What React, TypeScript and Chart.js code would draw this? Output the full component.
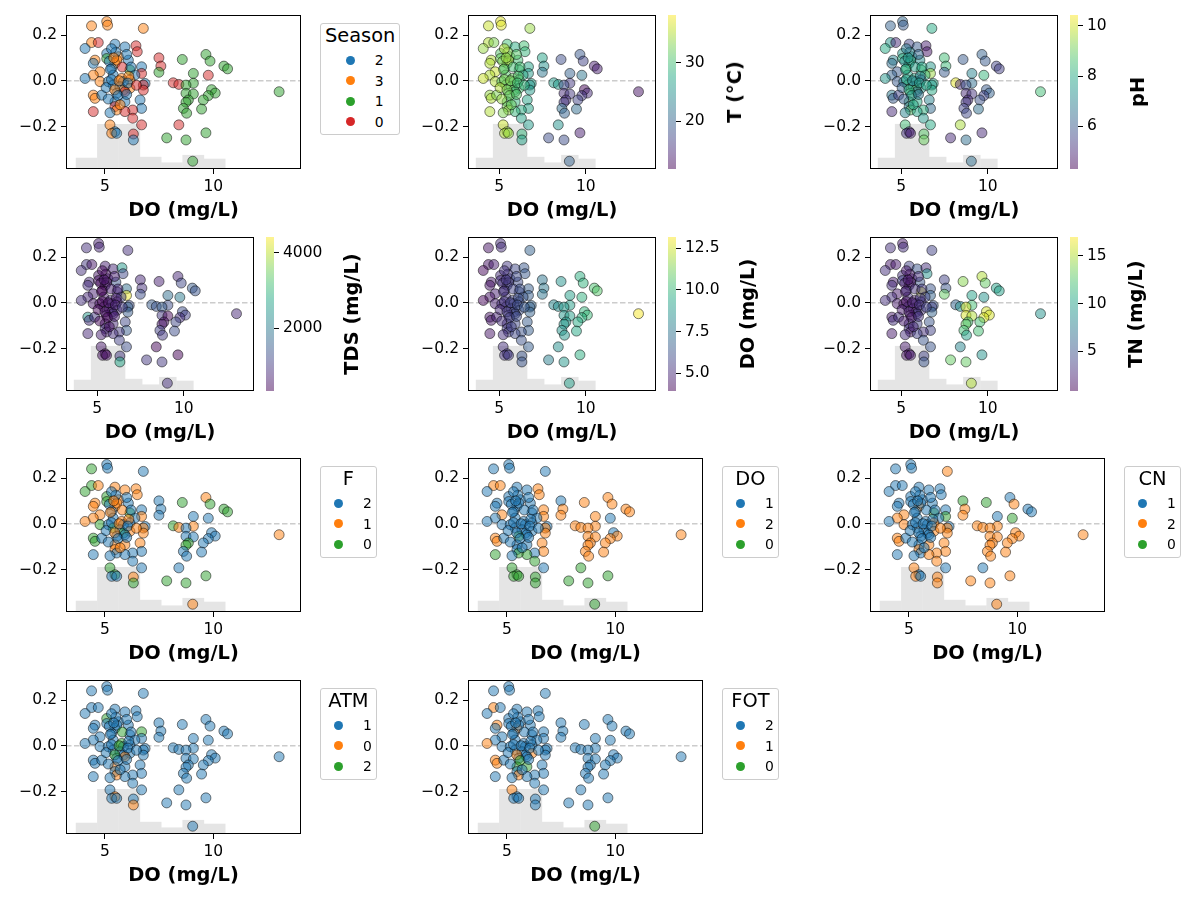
import React, { useEffect, useRef } from 'react';
import { Chart, registerables } from 'chart.js';

Chart.register(...registerables);

const FONT = "'DejaVu Sans', 'Liberation Sans', sans-serif";
Chart.defaults.font.family = FONT;

// ---------------- data ----------------
const doValues = [
  4.38, 5.08, 5.12, 6.77, 4.38, 4.69, 4.08, 5.46, 5.92, 6.43,
  6.49, 5.08, 4.54, 5.08, 5.62, 6.08, 5.46, 4.46, 5.31, 6.69,
  6.15, 6.69, 4.77, 4.46, 5.38, 6.38, 5.77, 4.08, 6.15, 4.77,
  5.15, 5.85, 6.85, 6.77, 5.38, 5.69, 6.15, 6.77, 5.85, 5.92,
  4.46, 4.54, 4.85, 5.54, 5.46, 5.92, 6.62, 5.46, 6.69, 5.54,
  6.28, 4.46, 5.23, 5.92, 6.28, 6.69, 5.23, 5.46, 5.31, 5.54,
  6.31, 6.31,
  5.20, 5.55, 5.25, 5.80, 6.10, 5.30, 5.65, 6.05, 5.05, 5.45,
  5.60, 6.00, 5.15, 5.70, 5.50, 6.00, 5.30, 5.40, 6.20, 6.45,
  7.49, 7.58, 7.49, 8.57, 9.66, 9.85, 10.49, 10.66, 9.77, 9.08,
  8.15, 8.41, 9.08, 8.74, 9.92, 10.09, 13.04, 8.74, 9.08, 9.77,
  9.54, 8.85, 8.74, 8.62, 8.77, 9.46, 8.41, 9.66, 7.85, 8.74,
  9.05,
];

const shapValues = [
  0.240, 0.259, 0.243, 0.229, 0.167, 0.167, 0.141, 0.160, 0.148, 0.153,
  0.127, 0.119, 0.090, 0.097, 0.105, 0.090, 0.076, 0.076, 0.054, 0.061,
  0.047, 0.032, 0.039, 0.025, 0.025, 0.025, 0.010, 0.010, 0.003, -0.004,
  -0.004, -0.004, -0.012, -0.019, -0.019, -0.026, -0.033, -0.041, -0.041, -0.048,
  -0.063, -0.077, -0.063, -0.055, -0.092, -0.092, -0.084, -0.113, -0.121, -0.128,
  -0.128, -0.135, -0.140, -0.135, -0.164, -0.193, -0.193, -0.223, -0.230, -0.230,
  -0.233, -0.259,
  0.085, 0.090, 0.050, 0.060, 0.020, 0.005, 0.000, -0.010, -0.030, -0.040,
  -0.065, -0.060, -0.080, -0.105, 0.125, 0.115, 0.140, 0.100, 0.060, -0.020,
  0.100, 0.064, 0.037, 0.093, 0.115, 0.086, 0.064, 0.052, 0.024, 0.032,
  -0.009, -0.016, -0.011, -0.019, -0.039, -0.054, -0.048, -0.055, -0.058, -0.065,
  -0.084, -0.084, -0.094, -0.121, -0.142, -0.124, -0.193, -0.228, -0.250, -0.259,
  -0.352,
];

const seasonCat = [
  3, 3, 3, 3, 3, 0, 2, 2, 2, 0, 0, 2, 3, 1, 3, 2, 3, 2, 2, 2,
  1, 0, 3, 3, 2, 2, 3, 2, 3, 3, 2, 2, 2, 0, 2, 2, 3, 0, 3, 0,
  3, 3, 2, 2, 2, 2, 2, 0, 2, 3, 0, 0, 2, 0, 0, 0, 3, 2, 3, 2,
  0, 2,
  2, 3, 2, 0, 3, 2, 3, 2, 2, 3, 2, 2, 2, 3, 2, 2, 2, 3, 2, 0,
  0, 0, 1, 1, 1, 1, 1, 1, 0, 1, 0, 0, 1, 1, 1, 1, 1, 1, 1, 1,
  1, 1, 1, 1, 1, 1, 0, 1, 1, 1, 1,
];

const tempC = [
  36, 37, 37, 34, 35, 33, 34, 30, 28, 30, 29, 31, 35, 32, 33, 30, 34, 35, 30, 27,
  29, 26, 36, 35, 31, 28, 32, 36, 30, 35, 31, 30, 27, 25, 32, 31, 30, 26, 32, 29,
  34, 35, 33, 31, 30, 29, 27, 33, 27, 34, 28, 35, 33, 29, 27, 26, 36, 34, 35, 34,
  29, 27,
  33, 34, 32, 30, 31, 33, 33, 30, 35, 33, 32, 31, 34, 32, 33, 31, 35, 34, 30, 29,
  27, 25, 22, 18, 19, 17, 14, 14, 22, 20, 26, 26, 16, 18, 12, 15, 13, 15, 16, 16,
  17, 15, 16, 21, 20, 21, 25, 14, 18, 18, 20,
];

const phVals = [
  6.2, 6.3, 6.0, 8.0, 7.5, 5.0, 8.0, 5.5, 6.0, 4.8, 4.6, 7.5, 7.0, 8.2, 7.8, 7.2, 8.0, 6.5, 8.5, 7.5,
  8.6, 9.5, 6.0, 6.2, 7.8, 8.2, 8.0, 7.5, 6.5, 6.0, 7.0, 7.8, 8.0, 7.5, 8.4, 7.2, 7.6, 8.0, 8.8, 6.5,
  6.8, 6.0, 5.5, 8.5, 8.6, 8.0, 7.0, 6.5, 6.4, 8.8, 8.2, 5.0, 7.0, 7.8, 7.5, 8.0, 8.5, 5.0, 5.2, 4.8,
  8.8, 9.0,
  7.2, 7.9, 8.0, 7.7, 7.0, 7.9, 7.1, 7.6, 6.2, 8.1, 7.5, 6.7, 6.1, 8.0, 7.0, 6.3, 6.8, 7.6, 8.0, 7.9,
  8.5, 8.4, 6.0, 6.0, 6.2, 6.0, 5.5, 5.4, 8.3, 7.0, 10.2, 5.0, 6.5, 5.8, 6.0, 6.2, 8.5, 5.0, 5.2, 5.5,
  5.8, 5.0, 5.3, 5.5, 5.6, 6.5, 9.6, 5.0, 5.0, 6.5, 6.5,
];

const tdsVals = [
  900, 700, 800, 900, 1000, 600, 900, 700, 800, 2500, 1200, 600, 800, 500, 700, 1400, 600, 900, 500, 1800,
  900, 4300, 700, 800, 600, 1100, 800, 900, 700, 600, 500, 900, 1300, 1600, 600, 700, 800, 1500, 700, 900,
  2500, 900, 1000, 600, 700, 800, 1200, 900, 1500, 700, 1000, 800, 700, 900, 1100, 1300, 600, 400, 500, 500,
  1000, 2700,
  450, 500, 350, 700, 650, 380, 500, 700, 400, 500, 400, 650, 420, 500, 500, 700, 450, 550, 800, 1000,
  800, 900, 1300, 700, 800, 1200, 1500, 1400, 2000, 1800, 1500, 1400, 1300, 1500, 1300, 1100, 800, 1000, 400, 900,
  1200, 500, 600, 1100, 1000, 1300, 380, 350, 1000, 1000, 900,
];

const tnVals = [
  3, 2, 3, 4, 2, 2, 3, 4, 5, 3, 9, 3, 2, 4, 2, 5, 2, 3, 4, 5,
  16, 6, 2, 3, 3, 4, 2, 3, 3, 2, 1.5, 3, 5, 4, 3, 2, 3, 6, 2, 4,
  2, 3, 3, 2, 3, 4, 5, 3, 4, 2, 3, 2, 3, 4, 5, 5, 2, 2, 1.5, 2,
  4, 5,
  2, 2, 2, 3, 3.5, 1.5, 2.2, 3, 2, 2, 2, 3, 2, 2.5, 2, 3, 2, 2, 3.5, 4,
  4, 5, 13, 14, 15, 13, 10, 10, 9, 10, 6, 9, 12, 16, 16, 16, 9, 16, 15, 16,
  12, 12, 13, 12, 10, 12, 8, 9, 13, 13, 15,
];

const fCat = [
  0, 2, 2, 2, 0, 1, 0, 1, 1, 1, 1, 0, 1, 0, 1, 2, 1, 1, 2, 2,
  0, 1, 1, 1, 2, 2, 1, 1, 2, 0, 2, 2, 2, 1, 0, 2, 1, 1, 0, 2,
  0, 0, 2, 2, 1, 1, 1, 1, 2, 2, 2, 2, 2, 2, 2, 2, 0, 0, 2, 2,
  1, 0,
  2, 1, 1, 1, 1, 2, 1, 2, 2, 1, 2, 2, 2, 1, 2, 2, 2, 1, 2, 1,
  2, 2, 2, 0, 1, 0, 0, 0, 2, 2, 0, 1, 1, 2, 2, 2, 1, 2, 2, 2,
  2, 0, 0, 2, 2, 2, 2, 0, 0, 0, 1,
];

const doCat = [
  1, 1, 1, 1, 2, 2, 1, 1, 1, 2, 2, 1, 1, 1, 1, 1, 1, 1, 1, 2,
  1, 2, 2, 1, 1, 1, 1, 1, 1, 1, 1, 1, 1, 2, 1, 1, 1, 2, 1, 1,
  2, 2, 1, 0, 1, 1, 2, 1, 2, 0, 1, 0, 1, 0, 0, 1, 0, 0, 0, 0,
  0, 0,
  1, 1, 1, 1, 1, 1, 1, 1, 1, 1, 1, 1, 1, 1, 1, 1, 1, 1, 1, 1,
  1, 2, 2, 2, 2, 2, 2, 2, 1, 2, 2, 2, 2, 2, 1, 2, 2, 2, 2, 2,
  2, 2, 2, 2, 2, 2, 0, 0, 0, 0, 0,
];

const cnCat = [
  1, 1, 1, 2, 1, 1, 1, 1, 1, 1, 1, 1, 1, 1, 1, 1, 2, 1, 1, 1,
  0, 0, 2, 2, 1, 1, 1, 1, 2, 2, 1, 1, 1, 2, 1, 1, 2, 2, 1, 1,
  2, 2, 1, 1, 1, 2, 2, 2, 2, 1, 2, 1, 1, 2, 2, 1, 2, 1, 2, 1,
  2, 2,
  1, 1, 1, 1, 1, 1, 1, 1, 1, 1, 1, 1, 1, 1, 1, 1, 1, 1, 1, 2,
  0, 2, 2, 0, 1, 2, 1, 1, 0, 1, 2, 2, 2, 2, 2, 2, 2, 2, 2, 2,
  2, 2, 2, 2, 2, 2, 1, 2, 2, 2, 2,
];

const atmCat = [
  1, 1, 1, 1, 1, 1, 1, 1, 1, 1, 1, 2, 1, 1, 1, 1, 1, 1, 1, 2,
  1, 1, 1, 1, 1, 1, 2, 1, 1, 1, 1, 1, 1, 1, 1, 1, 1, 1, 1, 0,
  1, 1, 1, 1, 0, 1, 1, 1, 1, 0, 1, 1, 1, 1, 1, 1, 1, 0, 1, 1,
  1, 0,
  1, 1, 1, 2, 1, 1, 2, 1, 1, 2, 1, 1, 1, 1, 1, 1, 1, 1, 1, 1,
  1, 1, 1, 1, 1, 1, 1, 1, 1, 1, 1, 1, 1, 1, 1, 1, 1, 1, 1, 1,
  1, 1, 1, 1, 1, 1, 1, 1, 1, 1, 1,
];

const fotCat = [
  2, 2, 2, 2, 1, 2, 2, 2, 2, 2, 2, 2, 1, 2, 2, 2, 1, 2, 2, 2,
  2, 2, 2, 2, 2, 2, 2, 1, 2, 2, 2, 2, 2, 2, 2, 2, 1, 2, 2, 2,
  1, 1, 2, 2, 0, 0, 2, 2, 2, 1, 2, 2, 2, 2, 2, 2, 1, 2, 2, 2,
  2, 2,
  2, 2, 2, 2, 2, 2, 2, 2, 2, 1, 0, 2, 2, 2, 2, 2, 2, 2, 2, 2,
  2, 2, 2, 2, 2, 2, 2, 2, 2, 2, 2, 2, 2, 2, 2, 2, 2, 2, 2, 2,
  2, 2, 2, 2, 2, 2, 2, 2, 2, 2, 0,
];

// legend label orders (as shown in each legend)
const seasonLegend = [2, 3, 1, 0];
const fLegend = [2, 1, 0];
const doLegend = [1, 2, 0];
const cnLegend = [1, 2, 0];
const atmLegend = [1, 0, 2];
const fotLegend = [2, 1, 0];

// background histogram of DO
const histEdges = [3.66, 4.645, 5.63, 6.615, 7.6, 8.585, 9.57, 10.555, 11.54, 12.525, 13.51];
const histCounts = [12, 48, 48, 13, 7, 15, 11, 1, 0, 1];
const histAxisMax = 164;

// axes
const xRange = [3.2, 14.05];
const yRange = [-0.386, 0.2875];
const xTicks = [5, 10];
const yTicks = [-0.2, 0, 0.2];
const xTitle = 'DO (mg/L)';

// colorbars
const tRange = [11.8, 38.2];
const tTicks = [20, 30];
const phRange = [4.28, 10.44];
const phTicks = [6, 8, 10];
const tdsRange = [341, 4415];
const tdsTicks = [2000, 4000];
const doRange = [3.95, 13.16];
const doTicks = [5, 7.5, 10, 12.5];
const tnRange = [0.86, 16.97];
const tnTicks = [5, 10, 15];

// ---------------- styling helpers ----------------
const TAB = [[31, 119, 180], [255, 127, 14], [44, 160, 44], [214, 39, 40]];
const VIRIDIS = ['#440154', '#482475', '#414487', '#355f8d', '#2a788e', '#21918c', '#22a884', '#44bf70', '#7ad151', '#bddf26', '#fde725'];

function hexToRgb(h: string): number[] {
  return [parseInt(h.slice(1, 3), 16), parseInt(h.slice(3, 5), 16), parseInt(h.slice(5, 7), 16)];
}
function viridis(t: number): number[] {
  const n = VIRIDIS.length - 1;
  const x = Math.min(1, Math.max(0, t)) * n;
  const i = Math.min(Math.floor(x), n - 1);
  const f = x - i;
  const a = hexToRgb(VIRIDIS[i]);
  const b = hexToRgb(VIRIDIS[i + 1]);
  return a.map((v, k) => Math.round(v + (b[k] - v) * f));
}
const rgba = (c: number[], a: number) => `rgba(${c[0]},${c[1]},${c[2]},${a})`;

const TICK_FONT = { family: FONT, size: 15.5 };

const framePlugin = {
  id: 'frame',
  afterDraw(chart: any) {
    const { ctx, chartArea: a } = chart;
    ctx.save();
    ctx.strokeStyle = '#000';
    ctx.lineWidth = 1;
    ctx.strokeRect(a.left + 0.5, a.top + 0.5, a.right - a.left - 1, a.bottom - a.top - 1);
    ctx.restore();
  },
};

const cbarPlugin = {
  id: 'cbarGradient',
  beforeDraw(chart: any) {
    const { ctx, chartArea: a } = chart;
    const g = ctx.createLinearGradient(0, a.bottom, 0, a.top);
    VIRIDIS.forEach((h, i) => g.addColorStop(i / (VIRIDIS.length - 1), rgba(hexToRgb(h), 0.5)));
    ctx.save();
    ctx.fillStyle = g;
    ctx.fillRect(a.left, a.top, a.right - a.left, a.bottom - a.top);
    ctx.restore();
  },
};

const PAD_TOP = 16;
const X_AXIS_H = 54;
const Y_AXIS_W = 64;
const AX_H = 154;

function ScatterPanel({ axLeft, axTop, axW, colors }: { axLeft: number; axTop: number; axW: number; colors: string[] }) {
  const ref = useRef<HTMLCanvasElement>(null);
  const w = axW + Y_AXIS_W + 6;
  const h = PAD_TOP + AX_H + X_AXIS_H;
  useEffect(() => {
    const points = doValues.map((x, i) => ({ x, y: shapValues[i] }));
    const hist = histCounts.map((c, i) => ({ x: (histEdges[i] + histEdges[i + 1]) / 2, y: c }));
    const chart = new Chart(ref.current as HTMLCanvasElement, {
      type: 'scatter',
      data: {
        datasets: [
          {
            type: 'scatter',
            data: points,
            pointBackgroundColor: colors,
            backgroundColor: colors,
            pointBorderColor: 'rgba(0,0,0,0.5)',
            borderColor: 'rgba(0,0,0,0.5)',
            pointBorderWidth: 1,
            pointRadius: 5,
            pointHoverRadius: 5,
            order: 1,
          } as any,
          {
            type: 'line',
            data: [{ x: xRange[0], y: 0 }, { x: xRange[1], y: 0 }],
            borderColor: '#cccccc',
            borderWidth: 1.5,
            borderDash: [5.5, 2.5],
            pointRadius: 0,
            showLine: true,
            order: 2,
          } as any,
          {
            type: 'bar',
            data: hist,
            yAxisID: 'y2',
            backgroundColor: '#e5e5e5',
            borderWidth: 0,
            barPercentage: 1.02,
            categoryPercentage: 1,
            order: 3,
          } as any,
        ],
      },
      options: {
        responsive: false,
        animation: false,
        events: [],
        layout: { padding: { left: 0, top: PAD_TOP, right: 6, bottom: 0 }, autoPadding: false },
        plugins: { legend: { display: false }, tooltip: { enabled: false } },
        scales: {
          x: {
            type: 'linear',
            min: xRange[0],
            max: xRange[1],
            offset: false,
            afterFit: (s: any) => { s.height = X_AXIS_H; },
            afterBuildTicks: (s: any) => { s.ticks = xTicks.map((v) => ({ value: v })); },
            ticks: { color: '#000', font: TICK_FONT, padding: 4, maxRotation: 0, autoSkip: false, callback: (v: any) => String(v) },
            grid: { display: true, offset: false, drawOnChartArea: false, drawTicks: true, tickLength: 5, color: '#000', lineWidth: 1 },
            border: { display: false },
            title: { display: true, text: xTitle, color: '#000', font: { family: FONT, size: 19.4, weight: 'bold' }, padding: 0 },
          },
          y: {
            type: 'linear',
            min: yRange[0],
            max: yRange[1],
            afterFit: (s: any) => { s.width = Y_AXIS_W; },
            afterBuildTicks: (s: any) => { s.ticks = yTicks.map((v) => ({ value: v })); },
            ticks: {
              color: '#000', font: TICK_FONT, padding: 4, autoSkip: false,
              callback: (v: any) => Number(v).toFixed(1).replace('-', '\u2212'),
            },
            grid: { display: true, offset: false, drawOnChartArea: false, drawTicks: true, tickLength: 5, color: '#000', lineWidth: 1 },
            border: { display: false },
          },
          y2: { type: 'linear', display: false, min: 0, max: histAxisMax },
        },
      } as any,
      plugins: [framePlugin],
    });
    return () => chart.destroy();
  }, []);
  return (
    <canvas
      ref={ref}
      width={w}
      height={h}
      style={{ position: 'absolute', left: axLeft - Y_AXIS_W, top: axTop - PAD_TOP, width: w, height: h }}
    />
  );
}

function ColorbarChart({ left, axTop, range, ticks, decimals }: { left: number; axTop: number; range: number[]; ticks: number[]; decimals: number }) {
  const ref = useRef<HTMLCanvasElement>(null);
  const w = 80;
  const h = PAD_TOP * 2 + AX_H;
  useEffect(() => {
    const chart = new Chart(ref.current as HTMLCanvasElement, {
      type: 'scatter',
      data: { datasets: [] },
      options: {
        responsive: false,
        animation: false,
        events: [],
        layout: { padding: { left: 0, top: PAD_TOP, right: 0, bottom: PAD_TOP }, autoPadding: false },
        plugins: { legend: { display: false }, tooltip: { enabled: false } },
        scales: {
          x: { type: 'linear', display: false, min: 0, max: 1 },
          y: {
            type: 'linear',
            position: 'right',
            min: range[0],
            max: range[1],
            afterFit: (s: any) => { s.width = w - 8; },
            afterBuildTicks: (s: any) => { s.ticks = ticks.map((v) => ({ value: v })); },
            ticks: { color: '#000', font: TICK_FONT, padding: 4, autoSkip: false, callback: (v: any) => Number(v).toFixed(decimals) },
            grid: { display: true, drawOnChartArea: false, drawTicks: true, tickLength: 5, color: '#000', lineWidth: 1 },
            border: { display: false },
          },
        },
      } as any,
      plugins: [cbarPlugin],
    });
    return () => chart.destroy();
  }, []);
  return (
    <canvas
      ref={ref}
      width={w}
      height={h}
      style={{ position: 'absolute', left, top: axTop - PAD_TOP, width: w, height: h }}
    />
  );
}

function Legend({ left, top, title, labels }: { left: number; top: number; title: string; labels: number[] }) {
  return (
    <div
      style={{
        position: 'absolute', left, top,
        border: '1px solid #cccccc', borderRadius: 3, background: 'rgba(255,255,255,0.8)',
        padding: '2px 4px', fontFamily: FONT, color: '#000', boxSizing: 'border-box',
      }}
    >
      <div style={{ fontSize: 19.4, lineHeight: '20px', height: 20, textAlign: 'center', whiteSpace: 'nowrap' }}>{title}</div>
      <div style={{ display: 'table', margin: '4px auto 0' }}>
        {labels.map((l, i) => (
          <div key={l} style={{ display: 'flex', alignItems: 'center', height: 20.5 }}>
            <div style={{ width: 27, display: 'flex', justifyContent: 'center', alignItems: 'center' }}>
              <span style={{ display: 'block', width: 9, height: 9, borderRadius: '50%', background: rgba(TAB[i], 1) }} />
            </div>
            <span style={{ marginLeft: 11, fontSize: 13.9, lineHeight: '16px' }}>{String(l)}</span>
          </div>
        ))}
      </div>
    </div>
  );
}

const COL_LEFT = [66, 468, 870];
const ROW_TOP = [15, 237, 458, 680];
const AX_W_LEGEND = 235;
const AX_W_CBAR = 188;

type Spec =
  | { row: number; col: number; kind: 'legend'; title: string; cats: number[]; order: number[] }
  | { row: number; col: number; kind: 'cbar'; label: string; values: number[]; range: number[]; ticks: number[]; decimals: number; labelX: number };

const specs: Spec[] = [
  { row: 0, col: 0, kind: 'legend', title: 'Season', cats: seasonCat, order: seasonLegend },
  { row: 0, col: 1, kind: 'cbar', label: 'T (°C)', values: tempC, range: tRange, ticks: tTicks, decimals: 0, labelX: 267 },
  { row: 0, col: 2, kind: 'cbar', label: 'pH', values: phVals, range: phRange, ticks: phTicks, decimals: 0, labelX: 268 },
  { row: 1, col: 0, kind: 'cbar', label: 'TDS (mg/L)', values: tdsVals, range: tdsRange, ticks: tdsTicks, decimals: 0, labelX: 286 },
  { row: 1, col: 1, kind: 'cbar', label: 'DO (mg/L)', values: doValues, range: doRange, ticks: doTicks, decimals: 1, labelX: 280 },
  { row: 1, col: 2, kind: 'cbar', label: 'TN (mg/L)', values: tnVals, range: tnRange, ticks: tnTicks, decimals: 0, labelX: 266 },
  { row: 2, col: 0, kind: 'legend', title: 'F', cats: fCat, order: fLegend },
  { row: 2, col: 1, kind: 'legend', title: 'DO', cats: doCat, order: doLegend },
  { row: 2, col: 2, kind: 'legend', title: 'CN', cats: cnCat, order: cnLegend },
  { row: 3, col: 0, kind: 'legend', title: 'ATM', cats: atmCat, order: atmLegend },
  { row: 3, col: 1, kind: 'legend', title: 'FOT', cats: fotCat, order: fotLegend },
];

export default function App() {
  return (
    <div style={{ position: 'absolute', left: 0, top: 0, width: 1200, height: 900, background: '#fff', overflow: 'hidden', fontFamily: FONT }}>
      {specs.map((s, k) => {
        const axLeft = COL_LEFT[s.col];
        const axTop = ROW_TOP[s.row];
        if (s.kind === 'legend') {
          const colors = s.cats.map((c) => rgba(TAB[s.order.indexOf(c)], 0.5));
          return (
            <React.Fragment key={k}>
              <ScatterPanel axLeft={axLeft} axTop={axTop} axW={AX_W_LEGEND} colors={colors} />
              <Legend left={axLeft + AX_W_LEGEND + 19} top={axTop + 8} title={s.title} labels={s.order} />
            </React.Fragment>
          );
        }
        const colors = s.values.map((v) => rgba(viridis((v - s.range[0]) / (s.range[1] - s.range[0])), 0.5));
        return (
          <React.Fragment key={k}>
            <ScatterPanel axLeft={axLeft} axTop={axTop} axW={AX_W_CBAR} colors={colors} />
            <ColorbarChart left={Math.round(axLeft + 199.75)} axTop={axTop} range={s.range} ticks={s.ticks} decimals={s.decimals} />
            <div
              style={{
                position: 'absolute', left: axLeft + s.labelX, top: axTop + AX_H / 2,
                transform: 'translate(-50%, -50%) rotate(-90deg)', whiteSpace: 'nowrap',
                fontFamily: FONT, fontWeight: 'bold', fontSize: 19.4, color: '#000', lineHeight: '22px',
              }}
            >
              {s.label}
            </div>
          </React.Fragment>
        );
      })}
    </div>
  );
}
